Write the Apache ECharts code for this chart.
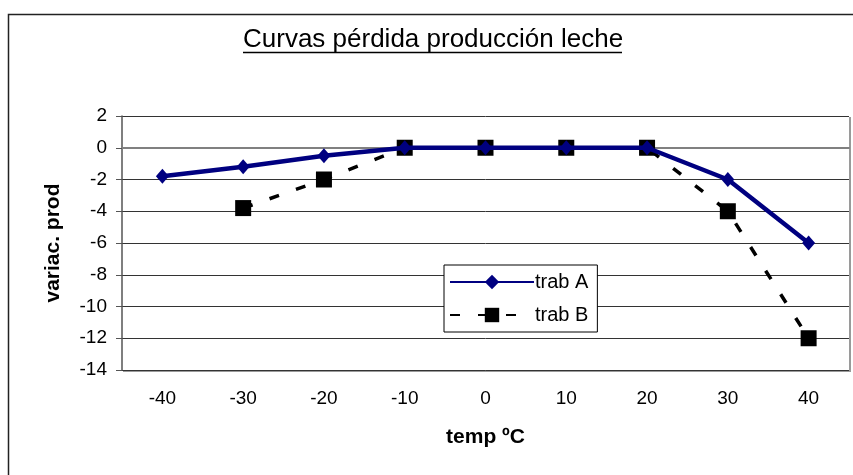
<!DOCTYPE html>
<html>
<head>
<meta charset="utf-8">
<script src="https://cdn.jsdelivr.net/npm/echarts@6/dist/echarts.min.js"></script>
<style>
  html, body { margin: 0; padding: 0; background: #fff; }
  #chart { width: 853px; height: 475px; }
</style>
</head>
<body>
<div id="chart"></div>
<script>
// datos
const temps = ['-40', '-30', '-20', '-10', '0', '10', '20', '30', '40'];
const trabA = [-1.8, -1.2, -0.5, 0, 0, 0, 0, -2, -6];
const trabB = [null, -3.8, -2, 0, 0, 0, 0, -4, -12];
const yTicks = { min: -14, max: 2, interval: 2 };

const font = 'Liberation Sans, Arial, sans-serif';
const chart = echarts.init(document.getElementById('chart'));

const option = {
  backgroundColor: '#fff',
  animation: false,
  title: {
    text: 'Curvas pérdida producción leche',
    left: 238,
    top: 22,
    textStyle: { fontFamily: font, fontSize: 26, fontWeight: 'normal', color: '#000' }
  },
  graphic: [
    // marco exterior
    { type: 'rect', shape: { x: 8.5, y: 14.5, width: 900, height: 500 },
      style: { fill: 'none', stroke: '#222', lineWidth: 1.5 }, silent: true },
    // subrayado del título
    { type: 'line', shape: { x1: 243, y1: 52.5, x2: 622, y2: 52.5 },
      style: { stroke: '#000', lineWidth: 1.5 }, silent: true },
    // sombra del área de trazado
    { type: 'polyline', shape: { points: [[850, 117], [850, 371], [123, 371]] },
      style: { stroke: '#9a9a9a', lineWidth: 2, fill: 'none' }, silent: true }
  ],
  legend: {
    orient: 'vertical',
    left: 444,
    top: 265,
    padding: [7, 9, 7, 5],
    itemGap: 13,
    itemWidth: 84,
    itemHeight: 18,
    backgroundColor: '#fff',
    borderColor: '#000',
    borderWidth: 1,
    textStyle: { fontFamily: font, fontSize: 20, color: '#000', padding: [0, 0, 0, -4] },
    data: ['trab A', 'trab B']
  },
  grid: {
    left: 122,
    right: 4,
    top: 116,
    bottom: 105,
    containLabel: false
  },
  xAxis: {
    type: 'category',
    data: temps,
    boundaryGap: true,
    name: 'temp ºC',
    nameLocation: 'middle',
    nameGap: 57,
    nameTextStyle: { fontFamily: font, fontSize: 21, fontWeight: 'bold', color: '#000' },
    axisLine: { lineStyle: { color: '#808080', width: 2 } },
    axisTick: { show: false },
    axisLabel: { fontFamily: font, fontSize: 19, color: '#000', margin: 19 },
    splitLine: { show: false }
  },
  yAxis: {
    type: 'value',
    min: yTicks.min,
    max: yTicks.max,
    interval: yTicks.interval,
    name: 'variac. prod',
    nameLocation: 'middle',
    nameGap: 58,
    nameTextStyle: { fontFamily: font, fontSize: 21, fontWeight: 'bold', color: '#000' },
    axisLine: { show: true, lineStyle: { color: '#555', width: 1.5 } },
    axisTick: { show: true, inside: false, length: 6, lineStyle: { color: '#555' } },
    axisLabel: { fontFamily: font, fontSize: 19, color: '#000', margin: 15 },
    splitLine: { show: true, lineStyle: { color: '#333', width: 1 } }
  },
  series: [
    {
      name: 'trab A',
      type: 'line',
      data: trabA,
      symbol: 'diamond',
      symbolSize: [13, 15],
      color: '#000080',
      lineStyle: { color: '#000080', width: 4.5 },
      itemStyle: { color: '#000080' },
      z: 3
    },
    {
      name: 'trab B',
      type: 'line',
      data: trabB,
      connectNulls: false,
      symbol: 'rect',
      symbolSize: 16,
      color: '#000',
      lineStyle: { color: '#000', width: 3.5, type: [10, 18] },
      itemStyle: { color: '#000' },
      z: 2
    }
  ]
};

chart.setOption(option);
</script>
</body>
</html>
